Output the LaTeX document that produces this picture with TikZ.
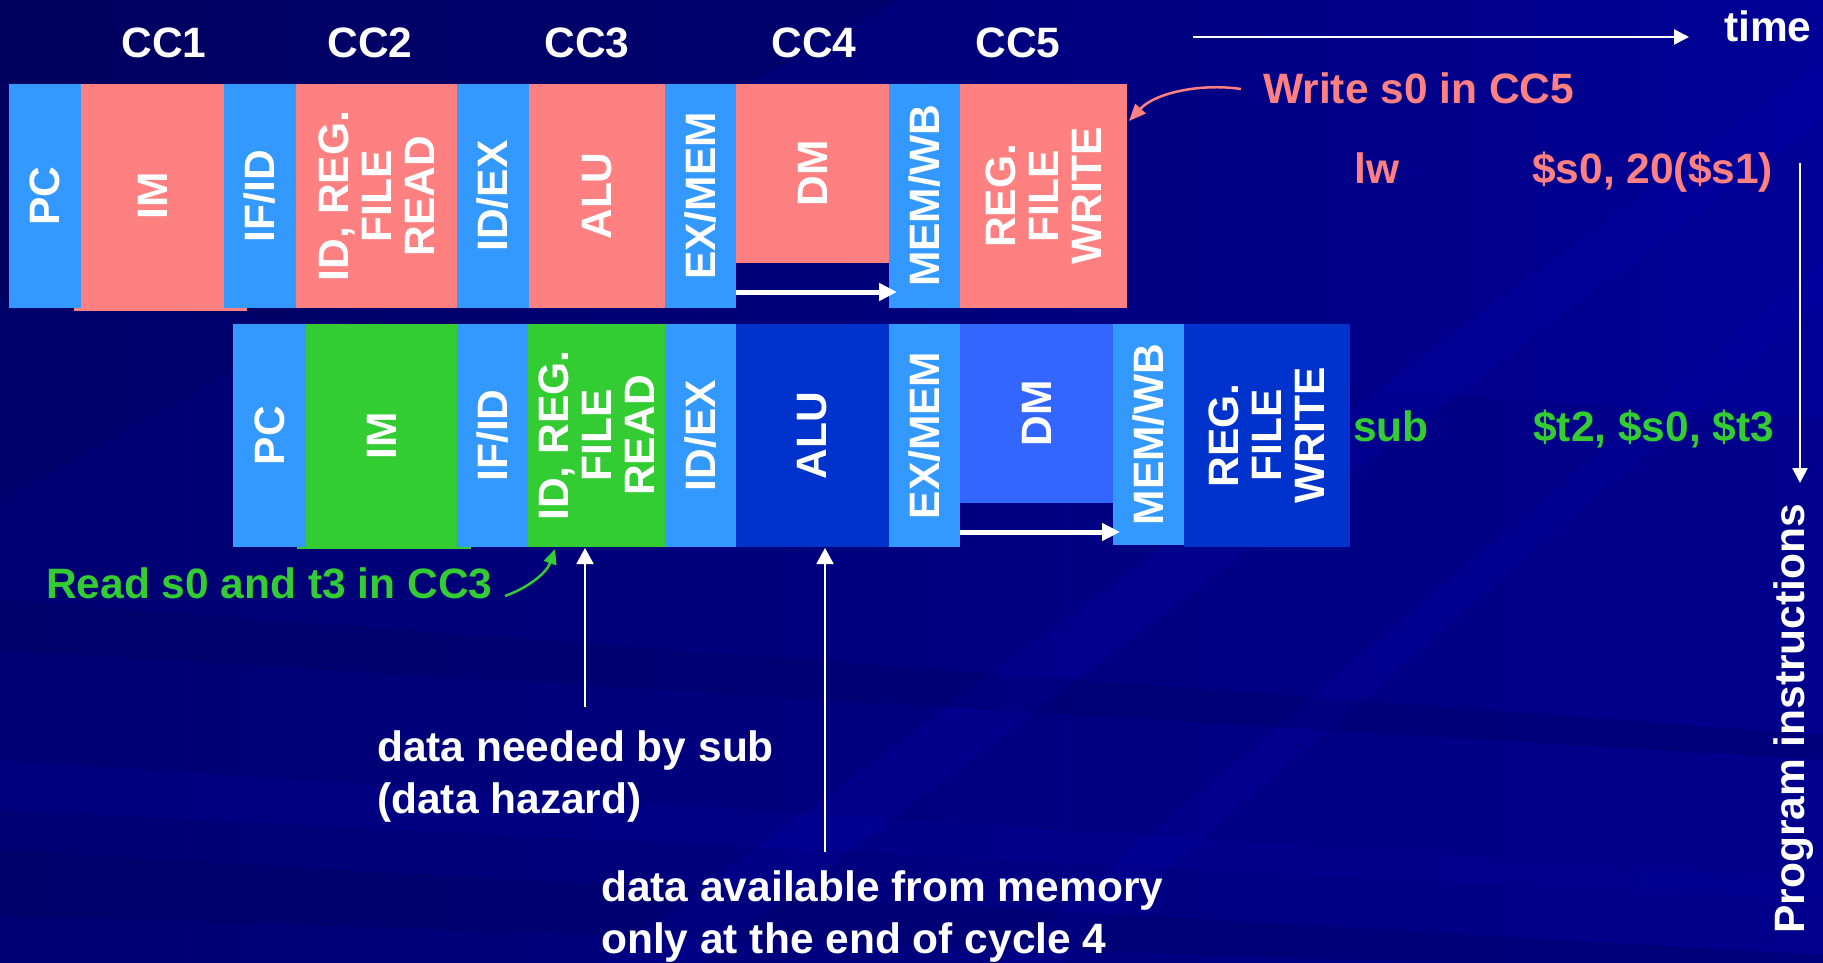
\documentclass[tikz,border=0pt]{standalone}
\usepackage{fontspec}
\setmainfont{Liberation Sans}
\usetikzlibrary{arrows.meta}
\definecolor{bgdark}{RGB}{0,0,96}
\definecolor{bgmid}{RGB}{0,0,132}
\definecolor{bglight}{RGB}{0,0,150}
\definecolor{pinkc}{RGB}{255,128,128}
\definecolor{lblue}{RGB}{51,153,255}
\definecolor{greenc}{RGB}{51,204,51}
\definecolor{dblue}{RGB}{0,51,204}
\definecolor{mblue}{RGB}{51,102,255}
\newcommand\bftext{\fontsize{42.5}{43}\selectfont\bfseries}
\newcommand\bfpara{\fontsize{42.5}{52}\selectfont\bfseries}
\newcommand\stg[7]{\node[stagebox,fill=#6,minimum width={#5-#4},minimum height={#3-#2}] (#1) at ({(#2+#3)/2},{(#4+#5)/2}) {#7};}
\begin{document}
\begin{tikzpicture}[x=1pt,y=-1pt,
  stagebox/.style={rotate=90,inner sep=0pt,text=white,font=\bftext,align=center,draw=none},
  lbl/.style={inner sep=0pt,font=\bftext},
  para/.style={inner sep=0pt,font=\bfpara,align=left,text=white},
  regarrow/.style={white,line width=5pt,-{Triangle[length=18pt,width=17pt]}},
  thinarrow/.style={white,line width=2.5pt,-{Triangle[length=15pt,width=15pt]}},
  curvearrow/.style={line width=2.5pt,-{Triangle[length=17pt,width=14pt]}},
  streak/.style={fill opacity=0.35}]
\useasboundingbox (0,0) rectangle (1823,963);
% background
\shade[left color=bgdark,right color=bglight] (0,0) rectangle (1823,963);
\fill[bgmid,fill opacity=0.5] (0,963) -- (0,300) -- (1823,420) -- (1823,963) -- cycle;
\fill[bgdark,streak] (0,850) -- (0,915) -- (1823,975) -- (1823,955) -- cycle;
\fill[bglight,streak] (0,760) -- (0,810) -- (1823,900) -- (1823,880) -- cycle;
\fill[bgdark,streak] (0,600) -- (0,650) -- (1823,760) -- (1823,735) -- cycle;
\fill[blue!60!bglight,fill opacity=0.12] (600,963) -- (700,963) -- (1823,120) -- (1823,60) -- cycle;
\fill[blue!60!bglight,fill opacity=0.10] (1000,963) -- (1060,963) -- (1823,300) -- (1823,260) -- cycle;
\fill[bgdark,fill opacity=0.4] (0,0) -- (900,0) -- (0,500) -- cycle;
% overhang strips
\fill[pinkc] (74,84) rectangle (247,311);
\fill[greenc] (297,324) rectangle (471,549);
% row 1: lw
\stg{aPC}{9}{81}{84}{308}{lblue}{PC}
\stg{aIM}{81}{224}{84}{308}{pinkc}{IM}
\stg{aIFID}{224}{296}{84}{308}{lblue}{IF/ID}
\stg{aID}{296}{457}{84}{308}{pinkc}{ID, REG.\\FILE\\READ}
\stg{aIDEX}{457}{529}{84}{308}{lblue}{ID/EX}
\stg{aALU}{529}{665}{84}{308}{pinkc}{ALU}
\stg{aEXMEM}{665}{736}{84}{308}{lblue}{EX/MEM}
\stg{aDM}{736}{889}{84}{263}{pinkc}{DM}
\stg{aMEMWB}{889}{960}{84}{308}{lblue}{MEM/WB}
\stg{aWB}{960}{1127}{84}{308}{pinkc}{REG.\\FILE\\WRITE}
% row 2: sub
\stg{bPC}{233}{306}{324}{547}{lblue}{PC}
\stg{bIM}{306}{457}{324}{547}{greenc}{IM}
\stg{bIFID}{457}{528}{324}{547}{lblue}{IF/ID}
\stg{bID}{528}{665}{324}{547}{greenc}{ID, REG.\\FILE\\READ}
\stg{bIDEX}{665}{736}{324}{547}{lblue}{ID/EX}
\stg{bALU}{736}{889}{324}{547}{dblue}{ALU}
\stg{bEXMEM}{889}{960}{324}{547}{lblue}{EX/MEM}
\stg{bDM}{960}{1113}{324}{503}{mblue}{DM}
\stg{bMEMWB}{1113}{1184}{324}{545}{lblue}{MEM/WB}
\stg{bWB}{1184}{1350}{324}{547}{dblue}{REG.\\FILE\\WRITE}
% register-transfer arrows
\coordinate (a1) at (736,292); \coordinate (a2) at (897,292);
\draw[regarrow] (a1) -- (a2);
\coordinate (b1) at (960,532); \coordinate (b2) at (1120,532);
\draw[regarrow] (b1) -- (b2);
% clock cycles
\node[lbl,text=white] (cc1) at (164,43) {CC1};
\node[lbl,text=white] (cc2) at (370,43) {CC2};
\node[lbl,text=white] (cc3) at (587,43) {CC3};
\node[lbl,text=white] (cc4) at (814,43) {CC4};
\node[lbl,text=white] (cc5) at (1018,43) {CC5};
% time axis
\node[lbl,text=white,anchor=base west] (time) at (1724,42) {time};
\coordinate (t0) at (1193,37); \coordinate (t1) at (1689,37);
\draw[thinarrow] (t0) -- (t1);
% instructions
\node[lbl,text=pinkc,anchor=base west] (write) at (1263,104) {Write s0 in CC5};
\node[lbl,text=pinkc,anchor=base west] (lw) at (1354,183) {lw};
\node[lbl,text=pinkc,anchor=base west] (lwops) at (1532,183) {\$s0, 20(\$s1)};
\node[lbl,text=greenc,anchor=base west] (sub) at (1353,441) {sub};
\node[lbl,text=greenc,anchor=base west] (subops) at (1533,441) {\$t2, \$s0, \$t3};
\coordinate (wstart) at (1241,89); \coordinate (wtip) at (1129,121);
\draw[curvearrow,pinkc] (wstart) .. controls (1200,83) and (1155,93) .. (wtip);
% program axis
\coordinate (p0) at (1800,163); \coordinate (p1) at (1800,483);
\draw[thinarrow] (p0) -- (p1);
\node[lbl,text=white,rotate=90,anchor=base west] (prog) at (1804,934) {Program instructions};
% read annotation
\node[lbl,text=greenc,anchor=base west] (read) at (46,598) {Read s0 and t3 in CC3};
\coordinate (gstart) at (505,596); \coordinate (gtip) at (555,549);
\draw[curvearrow,greenc,-{Triangle[length=15pt,width=13pt]}] (gstart) .. controls (530,587) and (547,572) .. (gtip);
% hazard notes
\node[para,anchor=north west] (need) at (377,730) {data needed by sub\\(data hazard)};
\coordinate (n0) at (585,707); \coordinate (n1) at (585,548);
\draw[thinarrow,line width=2pt,-{Triangle[length=16pt,width=17pt]}] (n0) -- (n1);
\node[para,anchor=north west] (avail) at (601,870) {data available from memory\\only at the end of cycle 4};
\coordinate (m0) at (825,852); \coordinate (m1) at (825,548);
\draw[thinarrow,line width=2pt,-{Triangle[length=16pt,width=17pt]}] (m0) -- (m1);
\end{tikzpicture}
\end{document}
